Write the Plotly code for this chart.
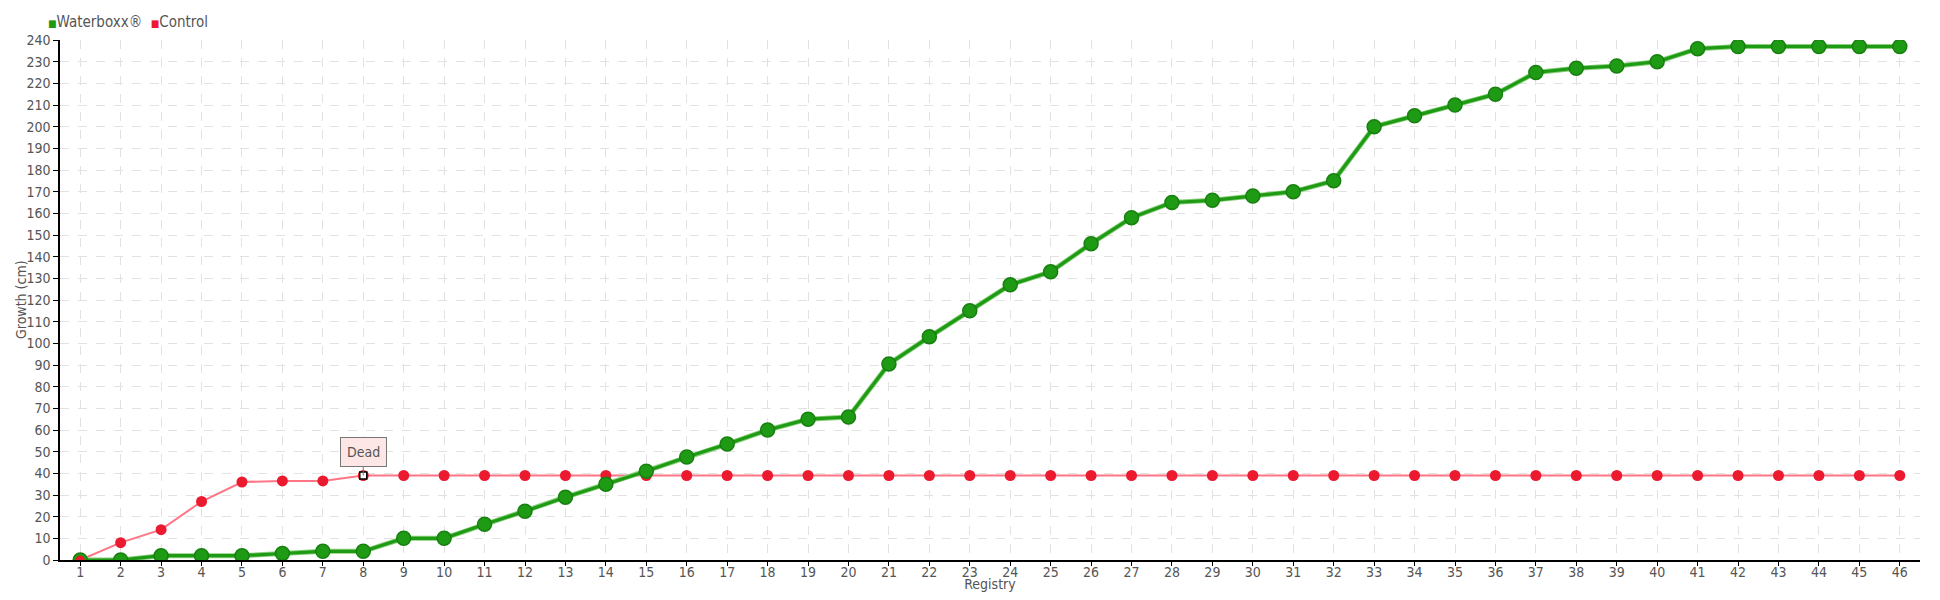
import plotly.graph_objects as go

registry = list(range(1, 47))
waterboxx = [0, 0, 2, 2, 2, 3, 4, 4, 10, 10, 16.5, 22.5, 29, 35, 41, 47.5, 53.5, 60, 65, 66,
             90.5, 103, 115, 127, 133, 146, 158, 165, 166, 168, 170, 175, 200, 205, 210, 215,
             225, 227, 228, 230, 236, 237, 237, 237, 237, 237]
control = [0, 8, 14, 27, 36, 36.5, 36.5, 39] + [39] * 38
dead_index = 7
dead_label = "Dead"
series_names = ["Waterboxx®", "Control"]
y_title = "Growth (cm)"
x_title = "Registry"
y_ticks = list(range(0, 241, 10))

FONT = "Liberation Sans Narrow, DejaVu Sans Condensed, sans-serif"
GREEN = "#1f9a14"
GREEN_DARK = "#17800f"
GREEN_LIGHT = "#86cf78"
RED = "#ec1a2e"
RED_LINE = "#ff7585"

# page body has an 8px margin; figure is sized so the plot area lands at
# absolute x 60..1920, y 40..560 in the 1940x600 window
FIG_W, FIG_H = 1924, 584
M_L, M_R, M_T, M_B = 52, 12, 32, 32
plot_w = FIG_W - M_L - M_R
plot_h = FIG_H - M_T - M_B

fig = go.Figure()

fig.add_trace(go.Scatter(x=registry, y=control, mode="lines+markers", name=series_names[1],
                         line=dict(color=RED_LINE, width=2),
                         marker=dict(color=RED, size=11, line=dict(width=0)),
                         showlegend=False))
fig.add_trace(go.Scatter(x=registry, y=waterboxx, mode="lines",
                         line=dict(color=GREEN_LIGHT, width=5), showlegend=False,
                         hoverinfo="skip"))
fig.add_trace(go.Scatter(x=registry, y=waterboxx, mode="lines+markers", name=series_names[0],
                         line=dict(color=GREEN, width=3.2),
                         marker=dict(color=GREEN, size=14, line=dict(color=GREEN_DARK, width=1.5)),
                         showlegend=False))
fig.add_trace(go.Scatter(x=[registry[0]], y=[control[0]], mode="markers",
                         marker=dict(color=RED, size=9), showlegend=False, hoverinfo="skip"))
fig.add_trace(go.Scatter(x=[registry[dead_index]], y=[control[dead_index]], mode="markers",
                         marker=dict(color="white", size=7, symbol="square",
                                     line=dict(color="black", width=1.5)),
                         showlegend=False, hoverinfo="skip"))

fig.add_annotation(x=registry[dead_index], y=control[dead_index], xref="x", yref="y",
                   text=dead_label, showarrow=True, arrowhead=0, arrowwidth=1,
                   arrowcolor="#777", ax=0, ay=-9, yanchor="bottom",
                   bgcolor="#fde6e6", bordercolor="#777", borderwidth=1, borderpad=6,
                   font=dict(family=FONT, size=14, color="#555"))

# legend (top-left)
legend_text = (f"<span style='color:{GREEN};font-size:10px'>■</span>{series_names[0]}  "
               f"<span style='color:{RED};font-size:10px'>■</span>{series_names[1]}")
fig.add_annotation(x=(46 - 60) / plot_w, y=(560 - 22) / plot_h, xref="paper", yref="paper",
                   text=legend_text, showarrow=False, xanchor="left", yanchor="middle",
                   font=dict(family=FONT, size=15, color="#555"))

# y-axis title close to the tick labels
fig.add_annotation(x=(21 - 60) / plot_w, y=0.5, xref="paper", yref="paper",
                   text=y_title, textangle=-90, showarrow=False,
                   xanchor="center", yanchor="middle",
                   font=dict(family=FONT, size=14, color="#555"))

fig.update_layout(
    width=FIG_W, height=FIG_H,
    margin=dict(l=M_L, r=M_R, t=M_T, b=M_B, autoexpand=False),
    plot_bgcolor="white", paper_bgcolor="white",
    font=dict(family=FONT, size=14, color="#555"),
    showlegend=False,
    xaxis=dict(range=[0.5, 46.5], tickmode="array", tickvals=registry,
               ticktext=[str(r) for r in registry],
               showgrid=True, gridcolor="#e2e2e2", griddash="dash", gridwidth=1,
               showline=True, linecolor="black", linewidth=1.5,
               ticks="outside", ticklen=4, tickcolor="black",
               ticklabelstandoff=-6,
               tickfont=dict(family=FONT, size=14, color="#555"),
               title=dict(text=x_title, standoff=3,
                          font=dict(family=FONT, size=14, color="#555")),
               zeroline=False, automargin=True),
    yaxis=dict(range=[0, 240], tickmode="array", tickvals=y_ticks,
               showgrid=True, gridcolor="#e2e2e2", griddash="dash", gridwidth=1,
               showline=True, linecolor="black", linewidth=1.5,
               ticks="outside", ticklen=5, tickcolor="black",
               tickfont=dict(family=FONT, size=14, color="#555"),
               zeroline=False, automargin=True),
)

fig.write_html("out.html")
